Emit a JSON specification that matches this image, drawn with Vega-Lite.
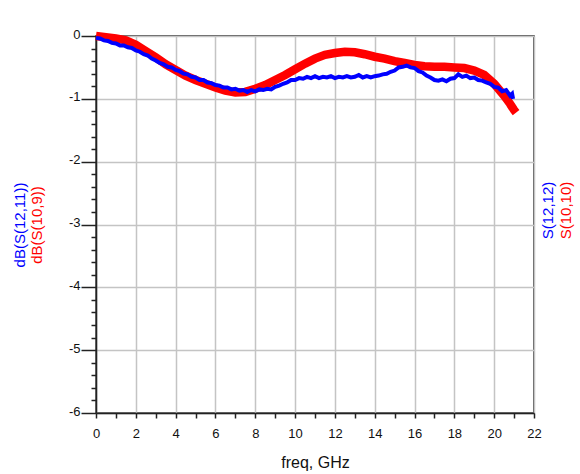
{
  "$schema": "https://vega.github.io/schema/vega-lite/v6.json",
  "width": 438,
  "height": 377,
  "autosize": {"type": "none"},
  "padding": {"left": 96, "top": 36, "right": 46, "bottom": 61},
  "background": "#ffffff",
  "config": {
    "view": {"stroke": "#222222", "strokeWidth": 1.5},
    "axis": {"labelFont": "Liberation Sans", "titleFont": "Liberation Sans", "titleFontWeight": "normal"}
  },
  "datasets": {
    "red": [
      {"f": 0.0, "v": 0.0}, {"f": 0.5, "v": -0.02}, {"f": 1.0, "v": -0.04}, {"f": 1.5, "v": -0.07},
      {"f": 2.0, "v": -0.14}, {"f": 2.5, "v": -0.24}, {"f": 3.0, "v": -0.34}, {"f": 3.5, "v": -0.45},
      {"f": 4.0, "v": -0.54}, {"f": 4.5, "v": -0.63}, {"f": 5.0, "v": -0.70}, {"f": 5.5, "v": -0.76},
      {"f": 6.0, "v": -0.82}, {"f": 6.5, "v": -0.87}, {"f": 7.0, "v": -0.90}, {"f": 7.5, "v": -0.89},
      {"f": 8.0, "v": -0.84}, {"f": 8.5, "v": -0.78}, {"f": 9.0, "v": -0.70}, {"f": 9.5, "v": -0.62},
      {"f": 10.0, "v": -0.53}, {"f": 10.5, "v": -0.44}, {"f": 11.0, "v": -0.36}, {"f": 11.5, "v": -0.30},
      {"f": 12.0, "v": -0.27}, {"f": 12.5, "v": -0.25}, {"f": 13.0, "v": -0.26}, {"f": 13.5, "v": -0.29},
      {"f": 14.0, "v": -0.33}, {"f": 14.5, "v": -0.36}, {"f": 15.0, "v": -0.40}, {"f": 15.5, "v": -0.43},
      {"f": 16.0, "v": -0.46}, {"f": 16.5, "v": -0.48}, {"f": 17.0, "v": -0.49}, {"f": 17.5, "v": -0.49},
      {"f": 18.0, "v": -0.50}, {"f": 18.5, "v": -0.51}, {"f": 19.0, "v": -0.55}, {"f": 19.5, "v": -0.62},
      {"f": 20.0, "v": -0.76}, {"f": 20.5, "v": -0.95}, {"f": 20.8, "v": -1.08}, {"f": 21.0, "v": -1.18},
      {"f": 21.1, "v": -1.22}
    ],
    "blue": [
      {"f": 0.0, "v": -0.03}, {"f": 0.2, "v": -0.04}, {"f": 0.4, "v": -0.07}, {"f": 0.6, "v": -0.08},
      {"f": 0.8, "v": -0.11}, {"f": 1.0, "v": -0.12}, {"f": 1.2, "v": -0.15}, {"f": 1.4, "v": -0.15},
      {"f": 1.6, "v": -0.18}, {"f": 1.8, "v": -0.19}, {"f": 2.0, "v": -0.23}, {"f": 2.2, "v": -0.25},
      {"f": 2.4, "v": -0.29}, {"f": 2.6, "v": -0.31}, {"f": 2.8, "v": -0.36}, {"f": 3.0, "v": -0.39},
      {"f": 3.2, "v": -0.43}, {"f": 3.4, "v": -0.45}, {"f": 3.6, "v": -0.49}, {"f": 3.8, "v": -0.50},
      {"f": 4.0, "v": -0.54}, {"f": 4.2, "v": -0.56}, {"f": 4.4, "v": -0.60}, {"f": 4.6, "v": -0.61},
      {"f": 4.8, "v": -0.65}, {"f": 5.0, "v": -0.66}, {"f": 5.2, "v": -0.70}, {"f": 5.4, "v": -0.70},
      {"f": 5.6, "v": -0.74}, {"f": 5.8, "v": -0.75}, {"f": 6.0, "v": -0.78}, {"f": 6.2, "v": -0.79},
      {"f": 6.4, "v": -0.82}, {"f": 6.6, "v": -0.82}, {"f": 6.8, "v": -0.85}, {"f": 7.0, "v": -0.84},
      {"f": 7.2, "v": -0.87}, {"f": 7.4, "v": -0.86}, {"f": 7.6, "v": -0.89}, {"f": 7.8, "v": -0.86},
      {"f": 8.0, "v": -0.88}, {"f": 8.2, "v": -0.85}, {"f": 8.4, "v": -0.86}, {"f": 8.6, "v": -0.84},
      {"f": 8.8, "v": -0.85}, {"f": 9.0, "v": -0.81}, {"f": 9.2, "v": -0.79}, {"f": 9.4, "v": -0.76},
      {"f": 9.6, "v": -0.74}, {"f": 9.8, "v": -0.70}, {"f": 10.0, "v": -0.70}, {"f": 10.2, "v": -0.67},
      {"f": 10.4, "v": -0.68}, {"f": 10.6, "v": -0.65}, {"f": 10.8, "v": -0.67}, {"f": 11.0, "v": -0.64},
      {"f": 11.2, "v": -0.67}, {"f": 11.4, "v": -0.65}, {"f": 11.6, "v": -0.66}, {"f": 11.8, "v": -0.64},
      {"f": 12.0, "v": -0.67}, {"f": 12.2, "v": -0.65}, {"f": 12.4, "v": -0.66}, {"f": 12.6, "v": -0.64},
      {"f": 12.8, "v": -0.66}, {"f": 13.0, "v": -0.65}, {"f": 13.2, "v": -0.62}, {"f": 13.4, "v": -0.66},
      {"f": 13.6, "v": -0.64}, {"f": 13.8, "v": -0.66}, {"f": 14.0, "v": -0.64}, {"f": 14.2, "v": -0.63},
      {"f": 14.4, "v": -0.61}, {"f": 14.6, "v": -0.60}, {"f": 14.8, "v": -0.57}, {"f": 15.0, "v": -0.55},
      {"f": 15.2, "v": -0.50}, {"f": 15.4, "v": -0.49}, {"f": 15.6, "v": -0.47}, {"f": 15.8, "v": -0.50},
      {"f": 16.0, "v": -0.51}, {"f": 16.2, "v": -0.56}, {"f": 16.4, "v": -0.58}, {"f": 16.6, "v": -0.63},
      {"f": 16.8, "v": -0.66}, {"f": 17.0, "v": -0.70}, {"f": 17.2, "v": -0.71}, {"f": 17.4, "v": -0.69},
      {"f": 17.6, "v": -0.72}, {"f": 17.8, "v": -0.68}, {"f": 18.0, "v": -0.67}, {"f": 18.2, "v": -0.61},
      {"f": 18.4, "v": -0.65}, {"f": 18.6, "v": -0.63}, {"f": 18.8, "v": -0.67}, {"f": 19.0, "v": -0.66},
      {"f": 19.2, "v": -0.70}, {"f": 19.4, "v": -0.71}, {"f": 19.6, "v": -0.74}, {"f": 19.8, "v": -0.76},
      {"f": 20.0, "v": -0.81}, {"f": 20.2, "v": -0.82}, {"f": 20.4, "v": -0.88}, {"f": 20.6, "v": -0.86},
      {"f": 20.8, "v": -0.95}, {"f": 20.9, "v": -0.92}, {"f": 20.95, "v": -1.0}
    ]
  },
  "layer": [
    {
      "data": {"name": "red"},
      "mark": {"type": "line", "color": "#ff0000", "strokeWidth": 8.5, "clip": false},
      "encoding": {
        "x": {"field": "f", "type": "quantitative", "scale": {"domain": [0, 22], "nice": false, "zero": false},
          "axis": {"orient": "bottom", "values": [0, 2, 4, 6, 8, 10, 12, 14, 16, 18, 20, 22], "tickSize": 5, "tickColor": "#222222", "tickWidth": 1.5,
            "domainColor": "#222222", "domainWidth": 1.5, "grid": true, "gridColor": "#c4c4c4", "gridWidth": 1.5,
            "labelFontSize": 13, "labelColor": "#111111", "labelPadding": 9, "labelFlush": false, "labelOverlap": false,
            "labelExpr": "'' + datum.value",
            "title": "freq, GHz", "titleFontSize": 16, "titleColor": "#111111", "titlePadding": 14}},
        "y": {"field": "v", "type": "quantitative", "scale": {"domain": [-6, 0], "nice": false, "zero": false},
          "axis": {"orient": "left", "values": [0, -1, -2, -3, -4, -5, -6], "tickSize": 15, "tickColor": "#222222", "tickWidth": 1.5,
            "domainColor": "#222222", "domainWidth": 1.5, "grid": true, "gridColor": "#c4c4c4", "gridWidth": 1.5,
            "labelFontSize": 13, "labelColor": "#111111", "labelPadding": 1, "labelOffset": -2, "labelFlush": false, "labelOverlap": false,
            "labelExpr": "'' + datum.value",
            "title": "dB(S(10,9))", "titleColor": "#ff0000", "titleFontSize": 15, "titleAngle": -90, "titleBaseline": "bottom", "titleX": -52}}
      }
    },
    {
      "data": {"name": "blue"},
      "mark": {"type": "line", "color": "#0000ff", "strokeWidth": 4, "clip": false},
      "encoding": {
        "x": {"field": "f", "type": "quantitative", "scale": {"domain": [0, 22], "nice": false, "zero": false},
          "axis": {"orient": "bottom", "values": [1, 3, 5, 7, 9, 11, 13, 15, 17, 19, 21], "tickSize": 5, "tickColor": "#222222", "tickWidth": 1.5,
            "domain": false, "grid": false, "labels": false, "title": null}},
        "y": {"field": "v", "type": "quantitative", "scale": {"domain": [-6, 0], "nice": false, "zero": false},
          "axis": {"orient": "left", "values": [-0.2, -0.4, -0.6, -0.8, -1.2, -1.4, -1.6, -1.8, -2.2, -2.4, -2.6, -2.8, -3.2, -3.4, -3.6, -3.8, -4.2, -4.4, -4.6, -4.8, -5.2, -5.4, -5.6, -5.8],
            "tickSize": 5, "tickColor": "#222222", "tickWidth": 1.5, "domain": false, "grid": false, "labels": false,
            "title": "dB(S(12,11))", "titleColor": "#0000ff", "titleFontSize": 15, "titleAngle": -90, "titleBaseline": "bottom", "titleX": -69}}
      }
    },
    {
      "data": {"name": "red"},
      "mark": {"type": "line", "opacity": 0},
      "encoding": {
        "x": {"field": "f", "type": "quantitative", "scale": {"domain": [0, 22], "nice": false, "zero": false}, "axis": null},
        "y": {"field": "v", "type": "quantitative", "scale": {"domain": [-6, 0], "nice": false, "zero": false},
          "axis": {"orient": "right", "ticks": false, "domain": false, "grid": false, "labels": false,
            "title": "S(10,10)", "titleColor": "#ff0000", "titleFontSize": 15, "titleAngle": -90, "titleBaseline": "bottom", "titleX": 39, "titleY": 174}}
      }
    },
    {
      "data": {"name": "blue"},
      "mark": {"type": "line", "opacity": 0},
      "encoding": {
        "x": {"field": "f", "type": "quantitative", "scale": {"domain": [0, 22], "nice": false, "zero": false}, "axis": null},
        "y": {"field": "v", "type": "quantitative", "scale": {"domain": [-6, 0], "nice": false, "zero": false},
          "axis": {"orient": "right", "ticks": false, "domain": false, "grid": false, "labels": false,
            "title": "S(12,12)", "titleColor": "#0000ff", "titleFontSize": 15, "titleAngle": -90, "titleBaseline": "bottom", "titleX": 21, "titleY": 174}}
      }
    }
  ],
  "resolve": {"axis": {"x": "independent", "y": "independent"}}
}
